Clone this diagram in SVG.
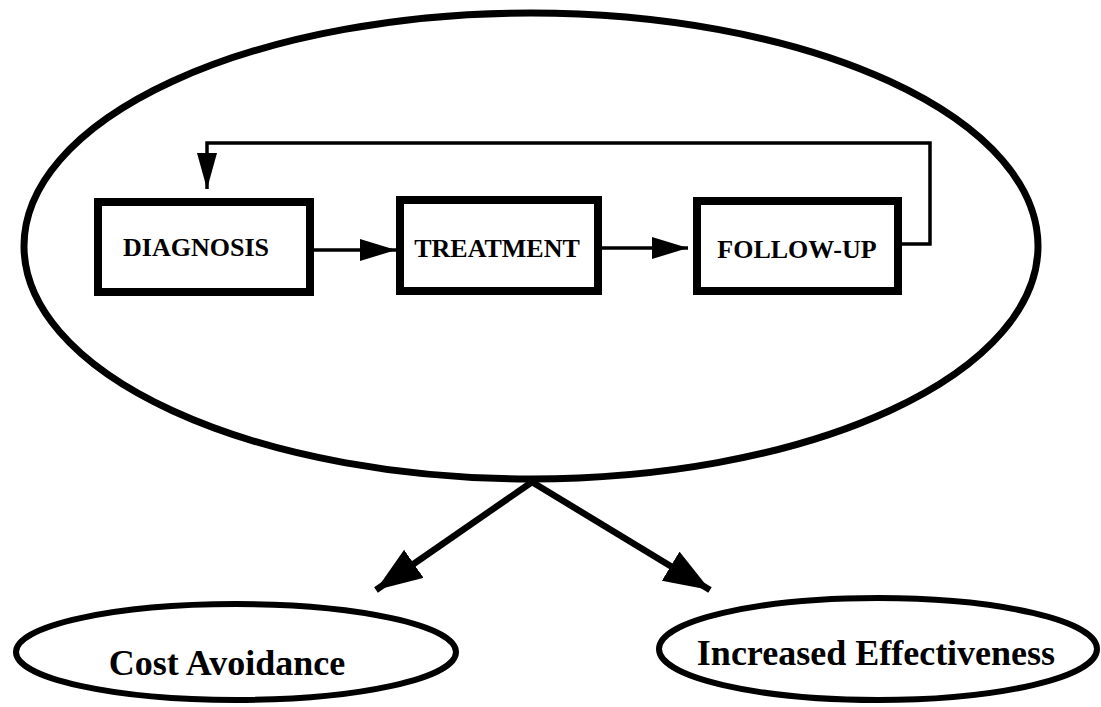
<svg xmlns="http://www.w3.org/2000/svg" width="1101" height="707" viewBox="0 0 1101 707">
<style>
.ell{fill:none;stroke:#000;stroke-width:7}
.box{fill:#fff;stroke:#000;stroke-width:8}
.lbl{font-family:"Liberation Serif","Times New Roman",serif;font-weight:bold;font-size:26px;fill:#000}
.big{font-family:"Liberation Serif","Times New Roman",serif;font-weight:bold;font-size:36px;fill:#000}
.thin{fill:none;stroke:#000;stroke-width:3.5}
.thick{fill:none;stroke:#000;stroke-width:6.5}
</style>
<defs>
<marker id="ah" markerUnits="userSpaceOnUse" markerWidth="40" markerHeight="24" refX="36" refY="11" orient="auto">
<path d="M0,0 L36,11 L0,22 Z" fill="#000"/>
</marker>
<marker id="ahd" markerUnits="userSpaceOnUse" markerWidth="40" markerHeight="24" refX="36" refY="10" orient="auto">
<path d="M0,0 L36,10 L0,20 Z" fill="#000"/>
</marker>
<marker id="ahb" markerUnits="userSpaceOnUse" markerWidth="50" markerHeight="36" refX="46" refY="17" orient="auto">
<path d="M0,0 L46,17 L0,34 Z" fill="#000"/>
</marker>
</defs>
<g id="process">
<ellipse class="ell" cx="531" cy="246" rx="507" ry="233"/>
</g>
<g id="diagnosis">
<rect class="box" x="98" y="202" width="212" height="90"/>
<text class="lbl" x="196" y="256" text-anchor="middle">DIAGNOSIS</text>
</g>
<g id="treatment">
<rect class="box" x="400" y="200" width="198" height="91"/>
<text class="lbl" x="497" y="257" text-anchor="middle">TREATMENT</text>
</g>
<g id="followup">
<rect class="box" x="697" y="201" width="201" height="90"/>
<text class="lbl" x="797" y="258" text-anchor="middle">FOLLOW-UP</text>
</g>
<g id="cost">
<ellipse class="ell" cx="236" cy="652" rx="220" ry="48" style="stroke-width:6"/>
<text class="big" x="227" y="675" text-anchor="middle">Cost Avoidance</text>
</g>
<g id="effect">
<ellipse class="ell" cx="878" cy="649" rx="219" ry="51" style="stroke-width:6"/>
<text class="big" x="876" y="665" text-anchor="middle">Increased Effectiveness</text>
</g>
<g id="connectors">
<path class="thin" d="M314,250 L396,250" marker-end="url(#ah)"/>
<path class="thin" d="M602,248 L688,248" marker-end="url(#ah)"/>
<path class="thin" d="M902,244 L930,244 L930,143 L207,143 L207,189" marker-end="url(#ahd)"/>
<path class="thick" d="M532,482 L376,590" marker-end="url(#ahb)"/>
<path class="thick" d="M532,482 L710,590" marker-end="url(#ahb)"/>
</g>
</svg>
